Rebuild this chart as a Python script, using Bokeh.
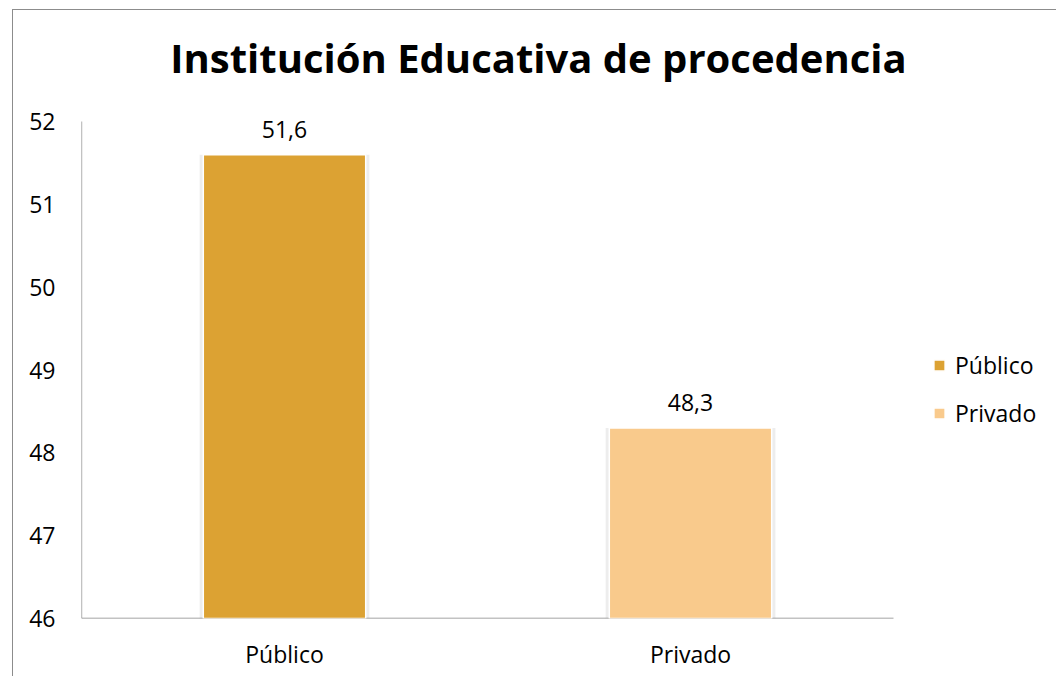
from bokeh.plotting import figure
from bokeh.models import Range1d, FixedTicker, Legend, LegendItem, Label, ColumnDataSource
from bokeh.embed import file_html
from bokeh.resources import INLINE
from bokeh.core.properties import value

categories = ["Público", "Privado"]
values = [51.6, 48.3]
labels = ["51,6", "48,3"]
colors = ["#DCA233", "#F9CA8C"]
y_ticks = [46, 47, 48, 49, 50, 51, 52]
title_text = "Institución Educativa de procedencia"

FONT = "Open Sans"

# layout (pixels)
W, H = 1044, 667
LEFT, BOTTOM = 68, 59
AXIS_W, AXIS_H = 812, 497          # visible axis extents
Y0, Y1 = y_ticks[0], y_ticks[-1]
n = len(categories)
frame_w, frame_h = W - LEFT, H - BOTTOM
x_end = n * frame_w / AXIS_W
y_end = Y0 + (Y1 - Y0) * frame_h / AXIS_H
px_per_y = AXIS_H / (Y1 - Y0)
px_per_x = AXIS_W / n

xs = [i + 0.5 for i in range(n)]

p = figure(width=W, height=H, output_backend="svg", toolbar_location=None,
           x_range=Range1d(0, x_end), y_range=Range1d(Y0, y_end),
           min_border_left=LEFT, min_border_right=0, min_border_top=0, min_border_bottom=BOTTOM)
p.styles = {"border-left": "1px solid #8c8c8c", "border-top": "1px solid #8c8c8c",
            "margin-left": "12px", "margin-top": "9px"}
p.outline_line_color = None
p.xgrid.grid_line_color = None
p.ygrid.grid_line_color = None

src = ColumnDataSource(dict(x=xs, val=values, lab=labels, col=colors, cat=categories))

# axis lines drawn over the visible extent only
p.segment(x0=[0, 0], y0=[Y0, Y0], x1=[n, 0], y1=[Y0, Y1], line_color="#868686", line_width=1.3)

# soft shadow behind bars
p.vbar(x="x", top="val", bottom=Y0, width=0.418, source=src, fill_color="#9a9a9a",
       fill_alpha=0.18, line_color=None)
r = p.vbar(x="x", top="val", bottom=Y0, width=0.4, source=src, fill_color="col",
           line_color="white", line_width=1.5)

p.text(x="x", y="val", text="lab", source=src, text_align="center", text_baseline="bottom",
       y_offset=-17, text_font=value(FONT), text_font_size="23px", text_color="#000000")

p.yaxis.ticker = FixedTicker(ticks=y_ticks)
p.xaxis.ticker = FixedTicker(ticks=xs)
p.xaxis.major_label_overrides = {x: c for x, c in zip(xs, categories)}
for ax in (p.xaxis[0], p.yaxis[0]):
    ax.axis_line_color = None
    ax.major_tick_line_color = None
    ax.minor_tick_line_color = None
    ax.major_label_text_font = FONT
    ax.major_label_text_font_size = "23px"
    ax.major_label_text_color = "#000000"
p.yaxis.major_label_standoff = 20
p.xaxis.major_label_standoff = 13

# one legend per entry so the item spacing matches the reference
legend_y = [237, 189]
for i in range(n):
    lg = Legend(items=[LegendItem(label=categories[i], renderers=[r], index=i)],
                location=(851, legend_y[i]), orientation="vertical",
                border_line_color=None, background_fill_color=None, background_fill_alpha=0,
                glyph_width=14, glyph_height=14, label_standoff=9,
                label_text_font=FONT, label_text_font_size="23px", label_text_color="#000000",
                padding=10, margin=0)
    p.add_layout(lg, "center")

title = Label(x=(538 - 81) / px_per_x, y=Y1 + 64 / px_per_y, text=title_text,
              text_align="center", text_baseline="alphabetic",
              text_font=FONT, text_font_style="bold", text_font_size="40px", text_color="#000000")
p.add_layout(title)

open("out.html", "w").write(file_html(p, INLINE))
